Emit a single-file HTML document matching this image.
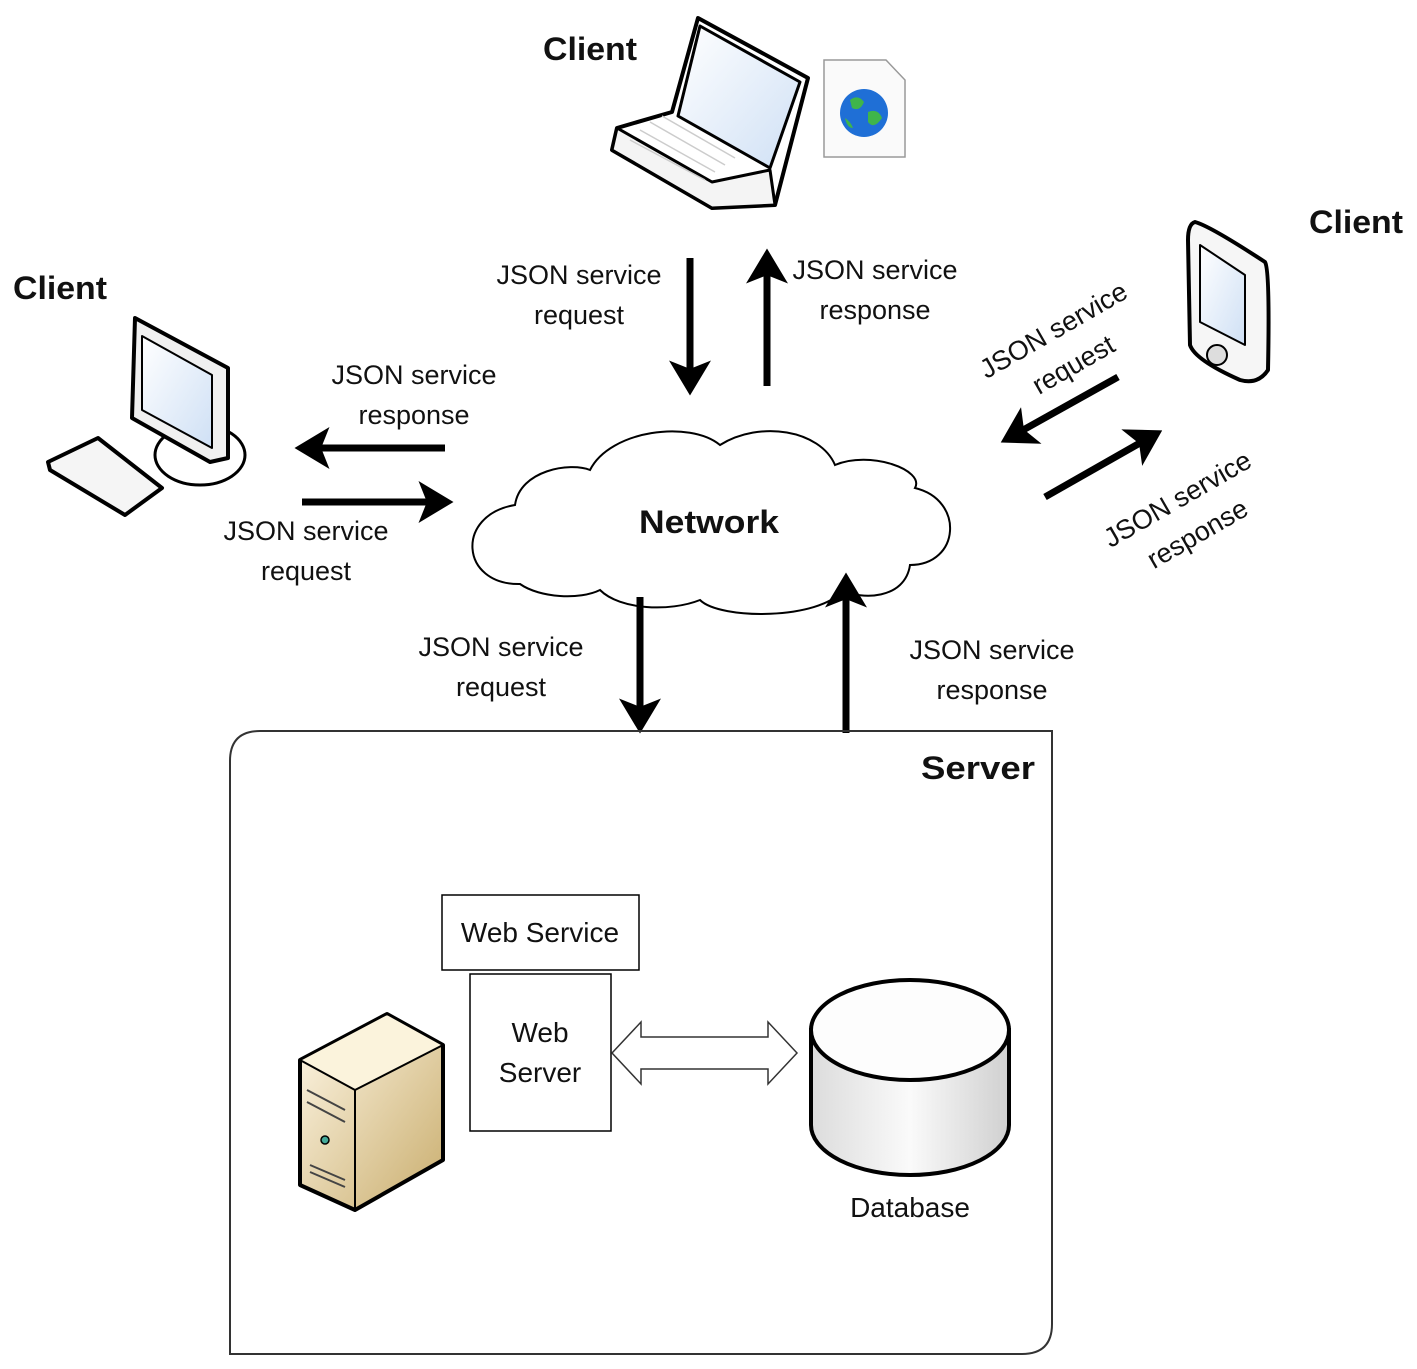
<!DOCTYPE html>
<html><head><meta charset="utf-8"><style>
html,body{margin:0;padding:0;background:#fff}
svg{display:block}
text{font-family:"Liberation Sans",sans-serif;fill:#111}
</style></head><body>
<svg width="1417" height="1369" viewBox="0 0 1417 1369" xmlns="http://www.w3.org/2000/svg">
<defs>
<marker id="ah" markerWidth="5" markerHeight="6" refX="2.5" refY="3" orient="auto" markerUnits="strokeWidth"><path d="M0,0 L5,3 L0,6 L1.2,3 Z" fill="#000"/></marker>
<linearGradient id="srv" x1="0" y1="0" x2="1" y2="1"><stop offset="0" stop-color="#fff8e8"/><stop offset="1" stop-color="#c9ad6d"/></linearGradient>
<linearGradient id="db" x1="0" y1="0" x2="1" y2="0"><stop offset="0" stop-color="#dcdcdc"/><stop offset="0.5" stop-color="#fafafa"/><stop offset="1" stop-color="#d0d0d0"/></linearGradient>
<linearGradient id="scr" x1="0" y1="0" x2="1" y2="1"><stop offset="0" stop-color="#fff"/><stop offset="1" stop-color="#cfe0f5"/></linearGradient>
</defs>

<!-- laptop -->
<g stroke="#000" stroke-linejoin="round">
<path d="M698,18 L808,78 L775,205 L712,208 L612,150 L617,128 L672,112 Z" fill="#fff" stroke-width="4"/>
<path d="M700,26 L800,82 L770,168 L678,116 Z" fill="url(#scr)" stroke-width="3"/>
<path d="M617,128 L712,182 L770,170 L775,205 L712,208 L612,150 Z" fill="#f4f4f4" stroke-width="3"/>
<g stroke="#ccc" stroke-width="1.5"><path d="M640,130 L715,172 M650,122 L725,165 M662,116 L735,158 M630,140 L705,180"/></g>
</g>
<path d="M824,60 L886,60 L905,80 L905,157 L824,157 Z" fill="#fafafa" stroke="#999" stroke-width="1.5"/>
<circle cx="864" cy="113" r="24" fill="#1f6fd6"/>
<path d="M850,100 q8,-6 14,2 q-4,10 -12,6 z M868,112 q10,-4 14,6 q-8,12 -14,4 z M845,118 q6,4 8,10 q-6,0 -8,-10z" fill="#3fb54a"/>

<!-- desktop -->
<g stroke="#000" stroke-linejoin="round">
<ellipse cx="200" cy="455" rx="45" ry="30" fill="#fff" stroke-width="3"/>
<path d="M135,318 L228,368 L228,458 L210,462 L132,418 Z" fill="#f0f0f0" stroke-width="4"/>
<path d="M142,336 L212,375 L212,448 L142,410 Z" fill="url(#scr)" stroke-width="2"/>
<path d="M48,462 L98,438 L162,488 L125,515 L50,470 Z" fill="#f5f5f5" stroke-width="4"/>
</g>

<!-- phone -->
<g stroke="#000" stroke-linejoin="round">
<path d="M1195,222 Q1210,226 1265,262 Q1270,270 1268,370 Q1258,385 1240,380 Q1195,360 1190,345 L1188,240 Q1188,224 1195,222 Z" fill="#f6f6f6" stroke-width="4"/>
<path d="M1200,245 L1245,275 L1245,345 L1200,322 Z" fill="url(#scr)" stroke-width="2"/>
<circle cx="1217" cy="355" r="10" fill="#ddd" stroke-width="2"/>
</g>

<!-- cloud -->
<path d="M520,584 C460,585 455,515 515,505 C520,470 570,462 590,470 C610,430 690,420 720,445 C760,420 820,430 835,465 C870,450 925,470 915,488 C965,500 960,565 910,565 C905,600 860,600 843,590 C820,620 720,620 700,600 C670,612 620,610 600,590 C580,600 540,598 520,584 Z" fill="#fff" stroke="#000" stroke-width="2"/>

<!-- labels -->
<g font-weight="bold" font-size="32">
<text x="543" y="60" textLength="94" lengthAdjust="spacingAndGlyphs">Client</text>
<text x="13" y="299" textLength="94" lengthAdjust="spacingAndGlyphs">Client</text>
<text x="1309" y="233" textLength="94" lengthAdjust="spacingAndGlyphs">Client</text>
<text x="709" y="533" text-anchor="middle" textLength="140" lengthAdjust="spacingAndGlyphs">Network</text>
<text x="921" y="779" textLength="114" lengthAdjust="spacingAndGlyphs">Server</text>
</g>

<!-- thick arrows -->
<g stroke="#000" stroke-width="7" fill="none" marker-end="url(#ah)">
<line x1="690" y1="258" x2="690" y2="378"/>
<line x1="767" y1="386" x2="767" y2="266"/>
<line x1="445" y1="448" x2="312" y2="448"/>
<line x1="302" y1="502" x2="436" y2="502"/>
<line x1="1118" y1="377" x2="1016" y2="434"/>
<line x1="1045" y1="497" x2="1147" y2="439"/>
<line x1="640" y1="597" x2="640" y2="716"/>
<line x1="846" y1="733" x2="846" y2="590"/>
</g>

<g font-size="27">
<text x="579" y="284" text-anchor="middle">JSON service</text>
<text x="579" y="324" text-anchor="middle">request</text>
<text x="875" y="279" text-anchor="middle">JSON service</text>
<text x="875" y="319" text-anchor="middle">response</text>
<text x="414" y="384" text-anchor="middle">JSON service</text>
<text x="414" y="424" text-anchor="middle">response</text>
<text x="306" y="540" text-anchor="middle">JSON service</text>
<text x="306" y="580" text-anchor="middle">request</text>
<text x="501" y="656" text-anchor="middle">JSON service</text>
<text x="501" y="696" text-anchor="middle">request</text>
<text x="992" y="659" text-anchor="middle">JSON service</text>
<text x="992" y="699" text-anchor="middle">response</text>
<g transform="translate(1058,338) rotate(-30)"><text x="0" y="0" text-anchor="middle">JSON service</text><text x="0" y="40" text-anchor="middle">request</text></g>
<g transform="translate(1182,507) rotate(-30)"><text x="0" y="0" text-anchor="middle">JSON service</text><text x="0" y="40" text-anchor="middle">response</text></g>
</g>

<!-- server box -->
<path d="M260,731 L1052,731 L1052,1324 Q1052,1354 1022,1354 L230,1354 L230,761 Q230,731 260,731 Z" fill="none" stroke="#333" stroke-width="2"/>

<rect x="442" y="895" width="197" height="75" fill="#fff" stroke="#000" stroke-width="1.5"/>
<text x="540" y="942" text-anchor="middle" font-size="28">Web Service</text>
<rect x="470" y="974" width="141" height="157" fill="#fff" stroke="#000" stroke-width="1.5"/>
<text x="540" y="1042" text-anchor="middle" font-size="28">Web</text>
<text x="540" y="1082" text-anchor="middle" font-size="28">Server</text>

<path d="M612,1053 L641,1022 L641,1037 L768,1037 L768,1022 L797,1053 L768,1084 L768,1069 L641,1069 L641,1084 Z" fill="#fff" stroke="#333" stroke-width="1.5"/>

<!-- server tower -->
<g stroke="#000" stroke-linejoin="round">
<path d="M300,1060 L387,1014 L443,1045 L443,1160 L355,1210 L300,1185 Z" fill="url(#srv)" stroke-width="4"/>
<path d="M300,1060 L387,1014 L443,1045 L355,1090 Z" fill="#fbf3dc" stroke-width="2"/>
<path d="M355,1090 L355,1210" stroke-width="2"/>
<path d="M307,1090 L345,1110 M307,1102 L345,1122 M310,1165 L345,1180 M310,1172 L345,1187" stroke="#444" stroke-width="2"/>
<circle cx="325" cy="1140" r="4" fill="#4a9" stroke-width="1.5"/>
</g>

<!-- database -->
<path d="M811,1030 L811,1125 A99,50 0 0 0 1009,1125 L1009,1030 Z" fill="url(#db)" stroke="#000" stroke-width="4"/>
<ellipse cx="910" cy="1030" rx="99" ry="50" fill="#fdfdfd" stroke="#000" stroke-width="4"/>
<text x="910" y="1217" text-anchor="middle" font-size="28">Database</text>
</svg>
</body></html>
